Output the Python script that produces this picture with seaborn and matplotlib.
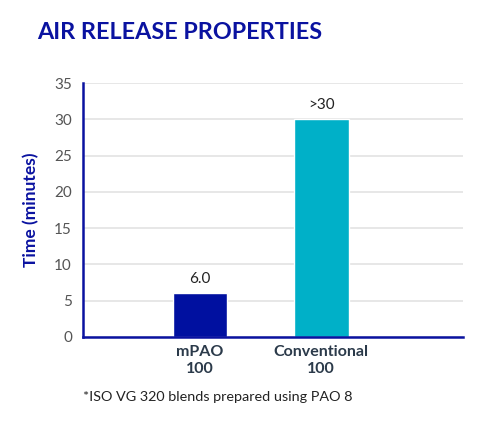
import matplotlib
matplotlib.use("Agg")
import matplotlib.pyplot as plt
import seaborn as sns

# chart data
categories = ["mPAO\n100", "Conventional\n100"]
values = [6.0, 30]
value_labels = ["6.0", ">30"]
yticks = [0, 5, 10, 15, 20, 25, 30, 35]

navy = "#0a12a0"
bar_colors = ["#0010a0", "#00b0c8"]

sns.set_style("white")
plt.rcParams["font.family"] = ["Lato", "DejaVu Sans"]

fig = plt.figure(figsize=(5, 4.29), dpi=100)
ax = fig.add_axes([0.166, 0.2145, 0.76, 0.592])

sns.barplot(x=categories, y=values, hue=categories, palette=bar_colors,
            width=0.45, legend=False, saturation=1, ax=ax)

for i, (v, lab) in enumerate(zip(values, value_labels)):
    ax.text(i, v + 1.0, lab, ha="center", va="bottom", fontsize=11,
            color="#222222")

ax.set_ylim(0, 35)
ax.set_xlim(-0.967, 2.17)
ax.set_yticks(yticks)
ax.yaxis.grid(True, color="#e3e3e3", linewidth=1.2)
ax.set_axisbelow(True)
ax.tick_params(axis="y", length=0, labelsize=11, labelcolor="#555555", pad=8)
ax.tick_params(axis="x", length=0, labelsize=11.5, labelcolor="#2b3a4a", pad=6)
for t in ax.get_xticklabels():
    t.set_fontweight("bold")

for s in ["top", "right"]:
    ax.spines[s].set_visible(False)
for s in ["left", "bottom"]:
    ax.spines[s].set_color(navy)
    ax.spines[s].set_linewidth(1.8)

ax.set_ylabel("Time (minutes)", fontsize=12.5, fontweight="bold", color=navy,
              labelpad=11)

fig.text(0.074, 0.925, "AIR RELEASE PROPERTIES", fontsize=16.8,
         fontweight="bold", color=navy, ha="left", va="center")
fig.text(0.166, 0.075, "*ISO VG 320 blends prepared using PAO 8",
         fontsize=10.4, color="#222222", ha="left", va="center")

fig.savefig("out.png", dpi=100)
